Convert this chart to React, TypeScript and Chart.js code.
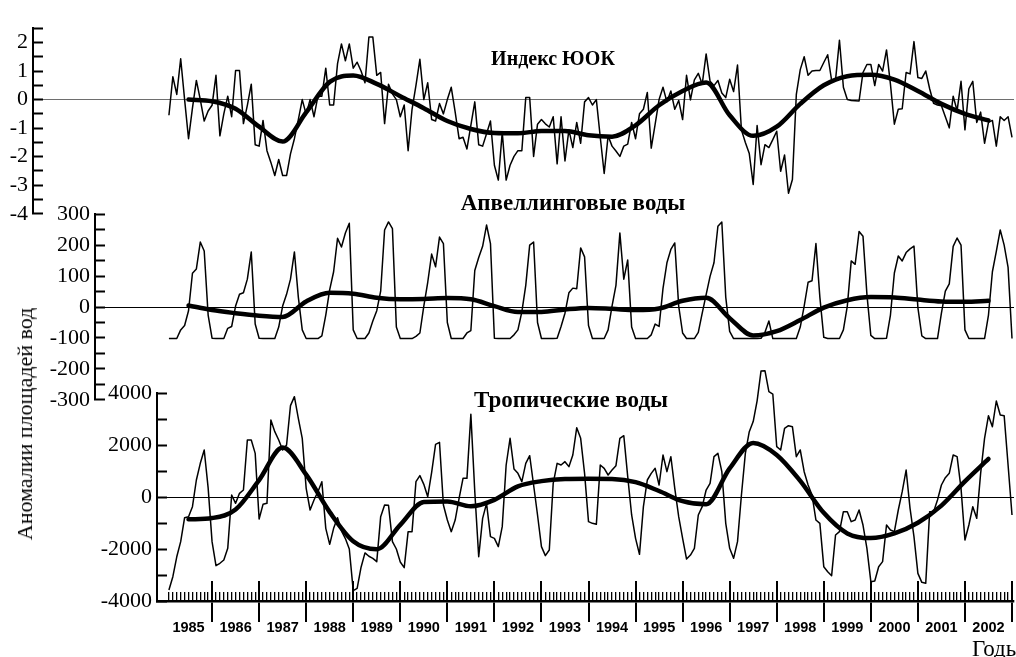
import React, { useEffect, useRef } from "react";
import { Chart, registerables } from "chart.js";

Chart.register(...registerables);

// ---------------- data ----------------
const START_YEAR = 1985;
const YEAR_LABELS = [
  "1985", "1986", "1987", "1988", "1989", "1990", "1991", "1992", "1993",
  "1994", "1995", "1996", "1997", "1998", "1999", "2000", "2001", "2002",
];

// Индекс ЮОК, monthly 1985-2002
const SOI_INDEX = [
  -0.55, 0.8, 0.18, 1.43, 0.0, -1.37, -0.3, 0.67, 0.0, -0.75, -0.4, -0.2,
  0.85, -1.27, -0.5, 0.12, -0.6, 1.02, 1.02, -0.84, -0.2, 0.54, -1.58, -1.63,
  -0.73, -1.79, -2.2, -2.66, -2.1, -2.66, -2.66, -1.9, -1.37, -0.7, 0.0, -0.52,
  0.0, -0.6, 0.12, 0.12, 1.1, -0.19, -0.19, 1.26, 1.95, 1.36, 1.95, 1.1,
  1.31, 1.0, 0.59, 2.19, 2.19, 0.85, 0.95, -0.84, 0.54, 0.2, 0.0, -0.6,
  -0.19, -1.79, -0.34, 0.5, 1.41, 0.0, 0.59, -0.7, -0.75, -0.14, -0.5, 0.0,
  0.43, -0.44, -1.37, -1.32, -1.73, -0.9, -0.08, -1.58, -1.63, -1.2, -0.75, -2.3,
  -2.82, -1.15, -2.82, -2.3, -1.99, -1.79, -1.79, 0.07, 0.07, -1.99, -0.86, -0.7,
  -0.85, -0.96, -0.6, -2.25, -0.6, -2.15, -1.06, -1.68, -0.8, -1.53, -0.08, 0.07,
  -0.19, 0.0, -1.32, -2.59, -1.27, -1.63, -1.8, -1.99, -1.63, -1.56, -0.8, -1.37,
  -0.5, -0.34, 0.25, -1.7, -0.86, 0.0, 0.43, -0.08, 0.3, -0.34, -0.03, -0.7,
  0.85, -0.01, 0.69, 0.92, 0.54, 1.6, 0.64, 0.49, 0.67, 0.23, 0.07, 0.71,
  0.28, 1.21, -1.06, -1.5, -1.89, -2.97, -0.91, -2.28, -1.58, -1.68, -1.4, -1.11,
  -2.51, -1.94, -3.28, -2.8, 0.18, 1.05, 1.5, 0.85, 1.0, 1.02, 1.02, 1.3,
  1.57, 0.67, 0.69, 2.08, 0.43, 0.0, -0.03, -0.04, -0.05, 0.95, 1.23, 1.23,
  0.49, 1.23, 1.0, 1.74, 0.54, -0.86, -0.34, -0.32, 0.95, 0.9, 2.03, 0.77,
  0.74, 1.0, 0.38, -0.13, -0.19, -0.22, -0.6, -0.99, 0.12, -0.39, 0.64, -1.06,
  0.38, 0.64, -0.8, -0.44, -1.53, -0.8, -0.73, -1.63, -0.6, -0.73, -0.6, -1.32,
];

// Апвеллинговые воды, monthly 1985-2002
const UPWELLING = [
  -102, -102, -102, -74, -60, -12, 109, 123, 210, 181, -26, -101,
  -102, -102, -102, -69, -63, 3, 41, 46, 90, 178, -55, -101,
  -102, -102, -102, -102, -65, 3, 41, 90, 178, 32, -74, -102,
  -102, -102, -102, -93, -26, 56, 114, 222, 194, 239, 271, -74,
  -102, -102, -102, -84, -45, -12, 51, 249, 275, 253, -65, -102,
  -102, -102, -102, -95, -84, 3, 80, 171, 130, 226, 205, -50,
  -102, -102, -102, -102, -84, -76, 118, 160, 196, 265, 205, -101,
  -102, -102, -102, -102, -90, -74, -16, 70, 200, 210, -50, -102,
  -102, -102, -102, -101, -63, -20, 46, 61, 59, 191, 162, -60,
  -102, -102, -102, -102, -74, 3, 70, 239, 90, 152, -65, -102,
  -102, -102, -102, -90, -55, -63, 60, 143, 186, 207, 3, -84,
  -102, -102, -102, -82, -20, 40, 99, 143, 261, 275, 32, -79,
  -102, -102, -102, -102, -102, -102, -102, -101, -82, -45, -102, -102,
  -102, -102, -102, -102, -102, -65, 3, 80, 85, 205, 32, -98,
  -102, -102, -102, -102, -74, 3, 149, 138, 244, 229, 41, -92,
  -102, -102, -102, -101, -26, 110, 165, 149, 176, 188, 197, -2,
  -93, -102, -102, -102, -102, -20, 51, 75, 196, 223, 200, -74,
  -102, -102, -102, -102, -102, -26, 114, 180, 249, 200, 128, -102,
];

// Тропические воды, monthly 1985-2002
const TROPICAL = [
  -3577, -3064, -2300, -1718, -795, -756, -372, 654, 1295, 1808, 350, -1718,
  -2641, -2550, -2423, -1974, 77, -244, 141, 269, 2192, 2192, 1679, -846,
  -282, -244, 2962, 2513, 2192, 1808, 2000, 3513, 3859, 3026, 2256, 333,
  -500, -115, 205, 590, -1205, -1821, -1205, -800, -1300, -1600, -2000, -3600,
  -3513, -2700, -2150, -2280, -2359, -2487, -756, -308, -320, -1718, -2000, -2500,
  -2718, -1333, -1333, 590, 821, 487, 13, 949, 2026, 2103, -308, -885,
  -1333, -885, -51, 718, 718, 3179, 205, -2295, -821, -244, -1526, -1590,
  -1910, -1141, 1231, 2256, 1077, 910, 590, 1295, 1590, 462, -692, -1910,
  -2256, -2038, 526, 1295, 1231, 1359, 1167, 1615, 2667, 2256, 910, -949,
  -1013, -1051, 1231, 1103, 846, 1038, 1205, 2256, 2359, 782, -692, -1590,
  -2205, -372, 654, 910, 1103, 462, 1615, 974, 1551, 333, -756, -1590,
  -2385, -2231, -1974, -692, -372, 269, 526, 1551, 1679, 974, -1013, -1974,
  -2359, -1718, 77, 1679, 2513, 2900, 3700, 4850, 4860, 4050, 3960, 1936,
  1808, 2641, 2744, 2705, 1551, 1808, 974, 462, 77, -885, -1013, -2680,
  -2872, -3026, -1462, -1333, -564, -564, -949, -885, -500, -1077, -1974, -3256,
  -3231, -2680, -2487, -1077, -1269, -1333, -500, 205, 1038, -436, -1526, -2936,
  -3282, -3321, -564, -564, -115, 462, 744, 910, 1615, 1551, 333, -1654,
  -1077, -372, -821, 910, 2256, 3128, 2705, 3692, 3154, 3128, 1231, -692,
];

// smoothed curves, sampled every 6 months (month index from Jan 1985 = 1)
const SMOOTH_MONTHS = [
  6, 12, 18, 24, 30, 36, 42, 48, 54, 60, 66, 72, 78, 84, 90, 96, 102, 108,
  114, 120, 126, 132, 138, 144, 150, 156, 162, 168, 174, 180, 186, 192, 198, 204, 210,
];
const SOI_SMOOTH = [
  0.0, -0.06, -0.32, -0.95, -1.47, -0.45, 0.62, 0.84, 0.55, 0.12, -0.3, -0.75,
  -1.03, -1.17, -1.18, -1.1, -1.1, -1.25, -1.3, -0.9, -0.2, 0.3, 0.6, -0.55,
  -1.27, -0.95, -0.15, 0.5, 0.82, 0.87, 0.7, 0.3, -0.15, -0.5, -0.73,
];
const UPWELLING_SMOOTH = [
  5, -10, -20, -28, -32, 18, 46, 43, 30, 25, 26, 29, 25, 3, -16, -16, -8, -3,
  -6, -10, -5, 20, 30, -36, -92, -78, -42, -2, 22, 32, 31, 24, 18, 17, 20,
];
const TROPICAL_SMOOTH = [
  -860, -810, -480, 650, 1900, 860, -580, -1700, -2010, -1070, -190, -170,
  -355, -110, 410, 610, 690, 700, 692, 570, 230, -160, -280, 1100, 2080, 1620,
  620, -610, -1400, -1580, -1400, -990, -330, 600, 1462,
];

// axis ticks
const SOI_TICKS = [2.5, 2, 1.5, 1, 0.5, 0, -0.5, -1, -1.5, -2, -2.5, -3, -3.5, -4];
const UPWELLING_TICKS = [300, 250, 200, 150, 100, 50, 0, -50, -100, -150, -200, -250, -300];
const TROPICAL_TICKS = [4000, 3000, 2000, 1000, 0, -1000, -2000, -3000, -4000];

// ---------------- layout ----------------
const W = 1016;
const H = 657;
const PX_START = 165; // pixel of 1985.0
const PX_END = 1012; // pixel of 2003.0
const AREA_RIGHT = 1014;
const PX_PER_YEAR = (PX_END - PX_START) / 18;
const xMinFor = (left: number) => START_YEAR - (PX_START - left) / PX_PER_YEAR;
const X_MAX = START_YEAR + 18 + (AREA_RIGHT - PX_END) / PX_PER_YEAR;
const MONTH_TICKS = Array.from({ length: 216 }, (_, i) => START_YEAR + (i + 1) / 12);

const SERIF = '"Liberation Serif", "Times New Roman", serif';
const SANS = '"Liberation Sans", Arial, sans-serif';
const CLEAR = "rgba(0,0,0,0)";

type PanelSpec = {
  raw: number[];
  smooth: number[];
  ticks: number[];
  labelStep: number;
  axisLeft: number;
  canvasTop: number;
  canvasHeight: number;
  padTop: number;
  padBottom: number;
  zeroColor: string;
  withXAxis: boolean;
};

const isYearTick = (i: number) => (i + 1) % 12 === 0;

function makeConfig(p: PanelSpec): any {
  const xMin = xMinFor(p.axisLeft);
  const rawPts = p.raw.map((v, i) => ({ x: START_YEAR + (i + 1) / 12, y: v }));
  const smoothPts = p.smooth.map((v, i) => ({ x: START_YEAR + SMOOTH_MONTHS[i] / 12, y: v }));
  const yMax = Math.max(...p.ticks);
  const yMin = Math.min(...p.ticks);

  const xScale: any = p.withXAxis
    ? {
        type: "linear",
        position: "bottom",
        min: xMin,
        max: X_MAX,
        afterBuildTicks: (s: any) => {
          s.ticks = MONTH_TICKS.map((v) => ({ value: v }));
        },
        afterFit: (s: any) => {
          s.height = 40;
        },
        grid: {
          color: "#000",
          lineWidth: (c: any) => (c.index !== undefined && isYearTick(c.index) ? 2 : 1.3),
          tickLength: 21,
          tickWidth: 2,
          tickColor: (c: any) => (c.index !== undefined && isYearTick(c.index) ? "#000" : CLEAR),
        },
        border: {
          display: true,
          color: "#000",
          width: 2.5,
          dash: (c: any) => {
            const a = c.chart && c.chart.chartArea;
            if (c.index === undefined || !a) return [];
            const h = a.bottom - a.top;
            const len = isYearTick(c.index) ? 20 : 9;
            return [0, h - len, len, 0];
          },
        },
        ticks: {
          autoSkip: false,
          maxRotation: 0,
          minRotation: 0,
          padding: -1,
          color: "#000",
          font: { family: SANS, size: 14.5, weight: "bold", lineHeight: 1 },
          callback: (_v: any, i: number) =>
            (i + 1) % 12 === 6 ? YEAR_LABELS[Math.floor((i + 1) / 12)] : "",
        },
      }
    : { type: "linear", min: xMin, max: X_MAX, display: false };

  return {
    type: "line",
    data: {
      datasets: [
        {
          data: rawPts,
          borderColor: "#000",
          borderWidth: 1.5,
          pointRadius: 0,
          tension: 0,
          borderJoinStyle: "round",
          clip: false,
        },
        {
          data: smoothPts,
          borderColor: "#000",
          borderWidth: 4.5,
          pointRadius: 0,
          cubicInterpolationMode: "monotone",
          borderCapStyle: "round",
          clip: false,
        },
      ],
    },
    options: {
      responsive: false,
      animation: false,
      events: [],
      layout: { padding: { top: p.padTop, bottom: p.padBottom, left: 0, right: W - AREA_RIGHT } },
      plugins: { legend: { display: false }, tooltip: { enabled: false }, title: { display: false } },
      scales: {
        x: xScale,
        y: {
          type: "linear",
          min: yMin,
          max: yMax,
          afterBuildTicks: (s: any) => {
            s.ticks = p.ticks.map((v) => ({ value: v }));
          },
          afterFit: (s: any) => {
            s.width = p.axisLeft;
          },
          grid: {
            color: (c: any) => (c.tick && c.tick.value === 0 ? p.zeroColor : CLEAR),
            lineWidth: 1,
            tickLength: -10,
            tickColor: "#000",
            tickWidth: 2,
          },
          border: { display: true, color: "#000", width: 2 },
          ticks: {
            autoSkip: false,
            color: "#000",
            padding: 15,
            font: { family: SERIF, size: 22 },
            callback: (v: any) => (Math.abs(Number(v) % p.labelStep) < 1e-9 ? String(v) : ""),
          },
        },
      },
    },
  };
}

function Panel({ spec }: { spec: PanelSpec }) {
  const ref = useRef<HTMLCanvasElement>(null);
  useEffect(() => {
    if (!ref.current) return;
    const chart = new Chart(ref.current, makeConfig(spec));
    return () => chart.destroy();
  }, []);
  return (
    <canvas
      ref={ref}
      width={W}
      height={spec.canvasHeight}
      style={{ position: "absolute", left: 0, top: spec.canvasTop, width: W, height: spec.canvasHeight }}
    />
  );
}

const PANELS: PanelSpec[] = [
  {
    raw: SOI_INDEX, smooth: SOI_SMOOTH, ticks: SOI_TICKS, labelStep: 1, axisLeft: 33,
    canvasTop: 0, canvasHeight: 242, padTop: 18, padBottom: 15, zeroColor: "#6e6e6e", withXAxis: false,
  },
  {
    raw: UPWELLING, smooth: UPWELLING_SMOOTH, ticks: UPWELLING_TICKS, labelStep: 100, axisLeft: 95,
    canvasTop: 186, canvasHeight: 242, padTop: 20, padBottom: 15, zeroColor: "#000", withXAxis: false,
  },
  {
    raw: TROPICAL, smooth: TROPICAL_SMOOTH, ticks: TROPICAL_TICKS, labelStep: 2000, axisLeft: 157,
    canvasTop: 355, canvasHeight: H - 355, padTop: 38, padBottom: 16, zeroColor: "#000", withXAxis: true,
  },
];

const titleStyle = (cx: number, top: number, size: number): React.CSSProperties => ({
  position: "absolute",
  left: cx,
  top,
  transform: "translateX(-50%)",
  fontFamily: SERIF,
  fontWeight: "bold",
  fontSize: size,
  lineHeight: `${size}px`,
  whiteSpace: "nowrap",
  color: "#000",
});

export default function App() {
  return (
    <div
      style={{
        position: "absolute",
        left: 0,
        top: 0,
        width: W,
        height: H,
        overflow: "hidden",
        background: "#fff",
      }}
    >
      {PANELS.map((p, i) => (
        <Panel key={i} spec={p} />
      ))}
      <div style={titleStyle(553, 48, 20)}>Индекс ЮОК</div>
      <div style={titleStyle(573, 191, 23)}>Апвеллинговые воды</div>
      <div style={titleStyle(571, 388, 23)}>Тропические воды</div>
      <div
        style={{
          position: "absolute",
          left: 25,
          top: 424,
          transform: "translate(-50%, -50%) rotate(-90deg)",
          fontFamily: SERIF,
          fontSize: 22,
          lineHeight: "22px",
          whiteSpace: "nowrap",
          color: "#000",
        }}
      >
        Аномалии площадей вод
      </div>
      <div
        style={{
          position: "absolute",
          left: 972,
          top: 637,
          fontFamily: SERIF,
          fontSize: 23,
          lineHeight: "23px",
          whiteSpace: "nowrap",
          color: "#000",
        }}
      >
        Годы
      </div>
    </div>
  );
}
